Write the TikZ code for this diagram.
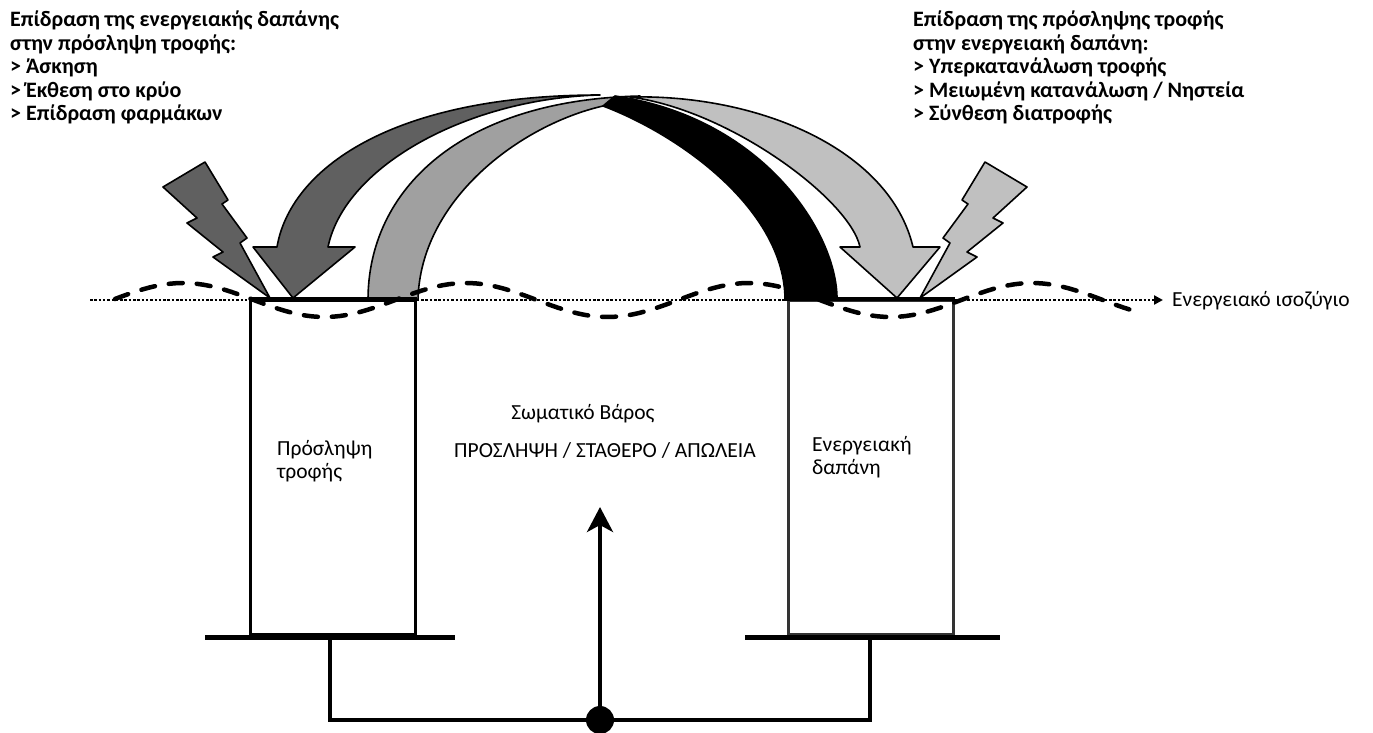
\documentclass[tikz,border=0pt]{standalone}
\usepackage{fontspec}
\setmainfont{Carlito}
\usetikzlibrary{arrows.meta}

\definecolor{bandDark}{HTML}{606060}
\definecolor{bandMid}{HTML}{A0A0A0}
\definecolor{bandLight}{HTML}{C0C0C0}

\begin{document}
\begin{tikzpicture}[x=1pt,y=-1pt,
  band/.style={draw=black,line width=1.6pt,line join=round},
  headline/.style={anchor=base west,inner sep=0pt,font=\fontsize{22}{24}\selectfont\bfseries},
  label/.style={inner sep=0pt,font=\fontsize{21.5}{24}\selectfont},
  boxframe/.style={draw=black,line width=3pt,minimum width=165pt,minimum height=334pt,inner sep=0pt},
  base/.style={line width=5pt},
  link/.style={line width=4pt},
  wave/.style={line width=4.5pt,line cap=round,dash pattern=on 14pt off 14pt},
  balance/.style={line width=2.4pt,dash pattern=on 2.5pt off 1.8pt},
  hub/.style={circle,fill=black,minimum size=28pt,inner sep=0pt}
]
\useasboundingbox (0,0) rectangle (1373,733);

% curved bands (drawn back to front)
\filldraw[band,fill=bandDark]
  (277,247) .. controls (290,170) and (390,95) .. (600,95)
  .. controls (470,98) and (345,165) .. (328,247)
  -- (355,247) -- (293,298) -- (253,247) -- cycle;
\filldraw[band,fill=bandMid]
  (368,300) .. controls (368,190) and (460,100) .. (640,96)
  -- (603,106) .. controls (520,125) and (420,200) .. (418,300) -- cycle;
\filldraw[band,fill=black]
  (603,106) .. controls (680,135) and (785,210) .. (785,300)
  -- (837,300) .. controls (838,235) and (765,118) .. (615,96) -- cycle;
\filldraw[band,fill=bandLight]
  (860,247) .. controls (850,200) and (730,110) .. (630,97)
  .. controls (760,94) and (890,150) .. (913,247)
  -- (940,247) -- (897,298) -- (840,247) -- cycle;

% lightning bolts
\filldraw[band,fill=bandDark]
  (205,162) -- (228,200) -- (222,204) -- (247,238) -- (240,243) -- (270,298)
  -- (213,257) -- (223,252) -- (187,223) -- (197,218) -- (163,187) -- cycle;
\filldraw[band,fill=bandLight]
  (985,162) -- (962,200) -- (968,204) -- (943,238) -- (950,243) -- (920,298)
  -- (977,257) -- (967,252) -- (1003,223) -- (993,218) -- (1027,187) -- cycle;

% the two compartments
\node[boxframe] (intake) at (332.5,467) {};
\node[boxframe,draw=black!80] (expend) at (870.5,467) {};
\draw[line width=4pt] (intake.north west) -- (intake.north east);
\draw[line width=4pt] (expend.north west) -- (expend.north east);

% scale bases and linkage
\coordinate (lbarL) at (205,637);
\coordinate (lbarR) at (455,637);
\coordinate (rbarL) at (745,637);
\coordinate (rbarR) at (1000,637);
\coordinate (ldrop) at (330,637);
\coordinate (rdrop) at (870,637);
\coordinate (weight) at (600,507);
\draw[base] (lbarL) -- (lbarR);
\draw[base] (rbarL) -- (rbarR);
\node[hub] (hub) at (600,720) {};
\draw[link] (ldrop) |- (hub.center) -| (rdrop);
\draw[link,-{Stealth[length=25pt,width=26pt,inset=7pt]}] (hub.center) -- (weight);

% energy balance line and its oscillation
\coordinate (balL) at (90,300);
\coordinate (balR) at (1163,300);
\draw[balance,-{Triangle[length=9pt,width=9pt]}] (balL) -- (balR);
\draw[wave] plot[domain=115:1130,samples=150] (\x,{300-17*cos((\x-183)/283*360)});

% texts
\node[headline] at (10,27)  {Επίδραση της ενεργειακής δαπάνης};
\node[headline] at (10,50.5) {στην πρόσληψη τροφής:};
\node[headline] at (10,74)  {> Άσκηση};
\node[headline] at (10,97.5) {> Έκθεση στο κρύο};
\node[headline] at (10,121) {> Επίδραση φαρμάκων};

\node[headline] at (913,27)  {Επίδραση της πρόσληψης τροφής};
\node[headline] at (913,50.5) {στην ενεργειακή δαπάνη:};
\node[headline] at (913,74)  {> Υπερκατανάλωση τροφής};
\node[headline] at (913,97.5) {> Μειωμένη κατανάλωση / Νηστεία};
\node[headline] at (913,121) {> Σύνθεση διατροφής};

\node[label,anchor=base west] at (1172,306) {Ενεργειακό ισοζύγιο};
\node[label,anchor=base west] at (277,455) {Πρόσληψη};
\node[label,anchor=base west] at (277,478) {τροφής};
\node[label,anchor=base west] at (812,451) {Ενεργειακή};
\node[label,anchor=base west] at (812,474) {δαπάνη};
\node[label,anchor=base] at (583,419) {Σωματικό Βάρος};
\node[label,anchor=base] at (605,457) {ΠΡΟΣΛΗΨΗ / ΣΤΑΘΕΡΟ / ΑΠΩΛΕΙΑ};
\end{tikzpicture}
\end{document}
